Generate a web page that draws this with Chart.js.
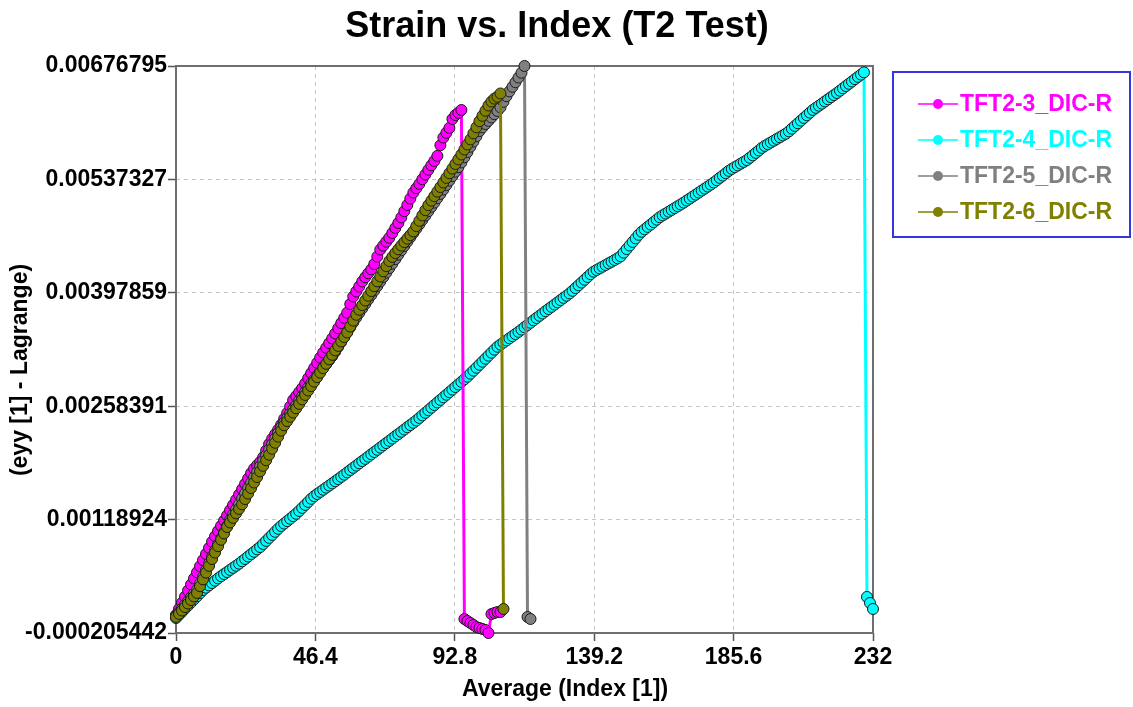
<html>
  <head>
    <title>Strain vs. Index (T2 Test)</title>
    <script src="https://cdn.jsdelivr.net/npm/chart.js@4.4.1/dist/chart.umd.min.js"></script>
    <style>
      body { margin: 0; background: #fff; }
      #wrap { width: 1133px; height: 707px; position: relative; }
    </style>
  </head>
  <body>
    <div id="wrap"><canvas id="strainChart"></canvas></div>
    <script>
      // axis ticks
      var xTicks = [0, 46.4, 92.8, 139.2, 185.6, 232];
      var xTickLabels = ['0', '46.4', '92.8', '139.2', '185.6', '232'];
      var yTicks = [-0.000205442, 0.00118924, 0.00258391, 0.00397859, 0.00537327, 0.00676795];
      var yTickLabels = ['-0.000205442', '0.00118924', '0.00258391', '0.00397859', '0.00537327', '0.00676795'];

      var seriesNames = ['TFT2-3_DIC-R', 'TFT2-4_DIC-R', 'TFT2-5_DIC-R', 'TFT2-6_DIC-R'];

      // eyy values, one per index step (x = position in the array)
      var tft2_3 = [
        0.000016, 0.000091, 0.000166, 0.000241, 0.000316, 0.000391, 0.000466, 0.000541, 0.000616, 0.000691,
        0.000766, 0.000841, 0.000916, 0.000984, 0.001048, 0.001112, 0.001176, 0.001241, 0.001305, 0.001369,
        0.001433, 0.001498, 0.001563, 0.001629, 0.001695, 0.001761, 0.001816, 0.001857, 0.001898, 0.001956,
        0.002038, 0.002119, 0.002183, 0.002239, 0.002295, 0.002357, 0.002428, 0.002500, 0.002580, 0.002660,
        0.002708, 0.002757, 0.002805, 0.002864, 0.002928, 0.002991, 0.003054, 0.003118, 0.003181, 0.003244,
        0.003302, 0.003360, 0.003418, 0.003479, 0.003543, 0.003606, 0.003670, 0.003734, 0.003840, 0.003933,
        0.003995, 0.004056, 0.004118, 0.004170, 0.004218, 0.004267, 0.004332, 0.004423, 0.004510, 0.004559,
        0.004607, 0.004655, 0.004714, 0.004776, 0.004837, 0.004905, 0.004982, 0.005059, 0.005137, 0.005211,
        0.005265, 0.005318, 0.005375, 0.005433, 0.005491, 0.005547, 0.005601, 0.005662, 0.005793, 0.005888,
        0.005947, 0.006006, 0.006116, 0.006164, 0.006193, 0.006227, -0.000033, -0.000058, -0.000082, -0.000107,
        -0.000132, -0.000144, -0.000156, -0.000168, -0.000205442, 0.000028, 0.000041, 0.000053, 0.000053
      ];
      var tft2_4 = [
        -0.000021, 0.000017, 0.000055, 0.000094, 0.000132, 0.000170, 0.000208, 0.000246, 0.000285, 0.000323,
        0.000352, 0.000380, 0.000409, 0.000437, 0.000466, 0.000493, 0.000519, 0.000544, 0.000570, 0.000596,
        0.000621, 0.000647, 0.000676, 0.000705, 0.000735, 0.000764, 0.000793, 0.000823, 0.000852, 0.000889,
        0.000927, 0.000964, 0.001001, 0.001039, 0.001076, 0.001110, 0.001140, 0.001170, 0.001200, 0.001231,
        0.001261, 0.001296, 0.001333, 0.001370, 0.001407, 0.001445, 0.001477, 0.001504, 0.001530, 0.001556,
        0.001582, 0.001608, 0.001634, 0.001660, 0.001687, 0.001715, 0.001742, 0.001770, 0.001798, 0.001826,
        0.001853, 0.001881, 0.001909, 0.001936, 0.001964, 0.001992, 0.002020, 0.002047, 0.002075, 0.002103,
        0.002130, 0.002158, 0.002186, 0.002214, 0.002241, 0.002269, 0.002297, 0.002325, 0.002352, 0.002380,
        0.002408, 0.002439, 0.002471, 0.002503, 0.002534, 0.002566, 0.002598, 0.002630, 0.002661, 0.002693,
        0.002725, 0.002756, 0.002788, 0.002820, 0.002851, 0.002883, 0.002915, 0.002947, 0.002984, 0.003021,
        0.003057, 0.003094, 0.003131, 0.003168, 0.003205, 0.003242, 0.003279, 0.003315, 0.003341, 0.003367,
        0.003393, 0.003419, 0.003445, 0.003471, 0.003498, 0.003526, 0.003555, 0.003583, 0.003611, 0.003640,
        0.003668, 0.003696, 0.003724, 0.003752, 0.003779, 0.003806, 0.003834, 0.003861, 0.003888, 0.003916,
        0.003943, 0.003971, 0.004003, 0.004037, 0.004071, 0.004105, 0.004139, 0.004173, 0.004207, 0.004238,
        0.004259, 0.004279, 0.004300, 0.004320, 0.004341, 0.004361, 0.004382, 0.004403, 0.004428, 0.004472,
        0.004516, 0.004560, 0.004604, 0.004648, 0.004692, 0.004729, 0.004759, 0.004789, 0.004818, 0.004848,
        0.004878, 0.004908, 0.004931, 0.004953, 0.004976, 0.004998, 0.005020, 0.005043, 0.005065, 0.005088,
        0.005113, 0.005137, 0.005162, 0.005186, 0.005211, 0.005236, 0.005260, 0.005285, 0.005309, 0.005335,
        0.005363, 0.005392, 0.005420, 0.005449, 0.005478, 0.005502, 0.005524, 0.005545, 0.005567, 0.005588,
        0.005610, 0.005639, 0.005669, 0.005699, 0.005729, 0.005760, 0.005785, 0.005806, 0.005828, 0.005849,
        0.005871, 0.005892, 0.005914, 0.005935, 0.005964, 0.005997, 0.006030, 0.006063, 0.006096, 0.006129,
        0.006162, 0.006194, 0.006227, 0.006253, 0.006279, 0.006305, 0.006332, 0.006358, 0.006384, 0.006410,
        0.006436, 0.006464, 0.006493, 0.006521, 0.006549, 0.006577, 0.006606, 0.006634, 0.006662, 0.006690,
        0.000238, 0.000164, 0.000090
      ];
      var tft2_5 = [
        0.000004, 0.000050, 0.000095, 0.000141, 0.000187, 0.000233, 0.000278, 0.000324, 0.000405, 0.000486,
        0.000567, 0.000648, 0.000730, 0.000807, 0.000883, 0.000958, 0.001034, 0.001109, 0.001185, 0.001251,
        0.001316, 0.001382, 0.001447, 0.001513, 0.001579, 0.001644, 0.001710, 0.001775, 0.001844, 0.001912,
        0.001981, 0.002050, 0.002118, 0.002187, 0.002255, 0.002324, 0.002386, 0.002440, 0.002493, 0.002546,
        0.002599, 0.002653, 0.002706, 0.002759, 0.002813, 0.002864, 0.002912, 0.002960, 0.003008, 0.003055,
        0.003103, 0.003151, 0.003199, 0.003255, 0.003315, 0.003375, 0.003435, 0.003495, 0.003555, 0.003615,
        0.003675, 0.003732, 0.003787, 0.003842, 0.003897, 0.003952, 0.004007, 0.004062, 0.004117, 0.004172,
        0.004227, 0.004282, 0.004337, 0.004392, 0.004447, 0.004501, 0.004555, 0.004608, 0.004661, 0.004715,
        0.004768, 0.004821, 0.004875, 0.004928, 0.004981, 0.005035, 0.005088, 0.005142, 0.005195, 0.005249,
        0.005303, 0.005358, 0.005413, 0.005468, 0.005523, 0.005582, 0.005646, 0.005710, 0.005775, 0.005839,
        0.005904, 0.005968, 0.006013, 0.006054, 0.006094, 0.006135, 0.006175, 0.006215, 0.006259, 0.006328,
        0.006397, 0.006456, 0.006512, 0.006568, 0.006626, 0.006685, 0.00676795, -0.000008, -0.000033
      ];
      var tft2_6 = [
        -0.000008, 0.000030, 0.000071, 0.000114, 0.000157, 0.000200, 0.000244, 0.000287, 0.000370, 0.000454,
        0.000537, 0.000620, 0.000704, 0.000784, 0.000862, 0.000941, 0.001019, 0.001098, 0.001154, 0.001210,
        0.001266, 0.001321, 0.001377, 0.001442, 0.001509, 0.001577, 0.001645, 0.001713, 0.001782, 0.001850,
        0.001919, 0.001987, 0.002060, 0.002134, 0.002209, 0.002283, 0.002349, 0.002401, 0.002454, 0.002506,
        0.002558, 0.002612, 0.002667, 0.002722, 0.002777, 0.002831, 0.002886, 0.002941, 0.002996, 0.003051,
        0.003105, 0.003160, 0.003215, 0.003270, 0.003325, 0.003380, 0.003434, 0.003491, 0.003564, 0.003636,
        0.003708, 0.003770, 0.003827, 0.003884, 0.003942, 0.004000, 0.004060, 0.004119, 0.004179, 0.004243,
        0.004306, 0.004369, 0.004420, 0.004467, 0.004514, 0.004559, 0.004602, 0.004645, 0.004688, 0.004734,
        0.004799, 0.004864, 0.004930, 0.004995, 0.005056, 0.005112, 0.005167, 0.005223, 0.005279, 0.005335,
        0.005392, 0.005449, 0.005506, 0.005563, 0.005620, 0.005680, 0.005741, 0.005803, 0.005865, 0.005940,
        0.006014, 0.006089, 0.006155, 0.006218, 0.006282, 0.006331, 0.006367, 0.006390, 0.006430, 0.000090
      ];

      var FONT = "'Liberation Sans', Arial, sans-serif";

      function toPoints(vals) {
        return vals.map(function (v, i) { return { x: i, y: v }; });
      }

      function makeSet(name, vals, color, order) {
        return {
          label: name,
          data: toPoints(vals),
          borderColor: color,
          backgroundColor: color,
          borderWidth: 3,
          pointRadius: 5.5,
          pointHoverRadius: 5.5,
          pointBackgroundColor: color,
          pointBorderColor: '#1a1a1a',
          pointBorderWidth: 1,
          tension: 0,
          clip: false,
          order: order
        };
      }

      // frame, titles and the boxed legend
      var decor = {
        id: 'decor',
        beforeDatasetsDraw: function (chart) {
          var a = chart.chartArea, ctx = chart.ctx;
          ctx.save();
          ctx.strokeStyle = '#6e6e6e';
          ctx.lineWidth = 2;
          ctx.strokeRect(a.left, a.top, a.right - a.left, a.bottom - a.top);
          ctx.restore();
        },
        afterDraw: function (chart) {
          var a = chart.chartArea, ctx = chart.ctx;
          ctx.save();
          ctx.fillStyle = '#000';
          ctx.textAlign = 'center';
          ctx.textBaseline = 'middle';
          ctx.font = 'bold 36px ' + FONT;
          ctx.fillText('Strain vs. Index (T2 Test)', 557, 27);
          ctx.font = 'bold 23px ' + FONT;
          ctx.fillText('Average (Index [1])', 565, 690);
          ctx.translate(21, 370);
          ctx.rotate(-Math.PI / 2);
          ctx.fillText('(eyy [1] - Lagrange)', 0, 0);
          ctx.restore();

          // legend
          var bx = a.right + 20, by = a.top + 6, bw = 237, bh = 165;
          ctx.save();
          ctx.strokeStyle = '#3535e0';
          ctx.lineWidth = 2;
          ctx.strokeRect(bx, by, bw, bh);
          ctx.font = 'bold 23px ' + FONT;
          ctx.textAlign = 'left';
          ctx.textBaseline = 'middle';
          chart.data.datasets.forEach(function (ds, i) {
            var ly = by + 32 + i * 36;
            ctx.strokeStyle = ds.borderColor;
            ctx.lineWidth = 1.5;
            ctx.beginPath();
            ctx.moveTo(bx + 25, ly);
            ctx.lineTo(bx + 65, ly);
            ctx.stroke();
            ctx.fillStyle = ds.borderColor;
            ctx.beginPath();
            ctx.arc(bx + 45, ly, 5, 0, Math.PI * 2);
            ctx.fill();
            ctx.fillText(ds.label, bx + 67, ly + 1);
          });
          ctx.restore();
        }
      };

      function edgeClear(ctx) {
        var v = ctx.tick ? ctx.tick.value : null;
        var s = ctx.scale;
        if (v === s.min || v === s.max) return 'rgba(0,0,0,0)';
        return '#c4c4c4';
      }

      new Chart(document.getElementById('strainChart'), {
        type: 'line',
        data: {
          datasets: [
            makeSet(seriesNames[0], tft2_3, '#ff00ff', 3),
            makeSet(seriesNames[1], tft2_4, '#00ffff', 4),
            makeSet(seriesNames[2], tft2_5, '#808080', 2),
            makeSet(seriesNames[3], tft2_6, '#808000', 1)
          ]
        },
        options: {
          responsive: true,
          maintainAspectRatio: false,
          animation: false,
          devicePixelRatio: 1,
          layout: { padding: { top: 66, right: 260, bottom: 0, left: 0 } },
          plugins: {
            legend: { display: false },
            title: { display: false },
            tooltip: { enabled: false }
          },
          scales: {
            x: {
              type: 'linear',
              min: xTicks[0],
              max: xTicks[xTicks.length - 1],
              afterBuildTicks: function (s) {
                s.ticks = xTicks.map(function (v) { return { value: v }; });
              },
              afterFit: function (s) { s.height = 74; },
              ticks: {
                autoSkip: false,
                maxRotation: 0,
                padding: 3,
                color: '#000',
                font: { family: FONT, size: 23, weight: 'bold' },
                callback: function (v, i) { return xTickLabels[i]; }
              },
              grid: {
                color: edgeClear,
                lineWidth: 1,
                tickLength: 8,
                tickColor: '#555',
                tickWidth: 1.5,
                tickBorderDash: []
              },
              border: { display: false, dash: [4, 4] }
            },
            y: {
              type: 'linear',
              min: yTicks[0],
              max: yTicks[yTicks.length - 1],
              afterBuildTicks: function (s) {
                s.ticks = yTicks.map(function (v) { return { value: v }; });
              },
              afterFit: function (s) { s.width = 176; },
              ticks: {
                padding: 1,
                color: '#000',
                font: { family: FONT, size: 23, weight: 'bold' },
                callback: function (v, i) { return yTickLabels[i]; }
              },
              grid: {
                color: edgeClear,
                lineWidth: 1,
                tickLength: 8,
                tickColor: '#555',
                tickWidth: 1.5,
                tickBorderDash: []
              },
              border: { display: false, dash: [4, 4] }
            }
          }
        },
        plugins: [decor]
      });
    </script>
  </body>
</html>
